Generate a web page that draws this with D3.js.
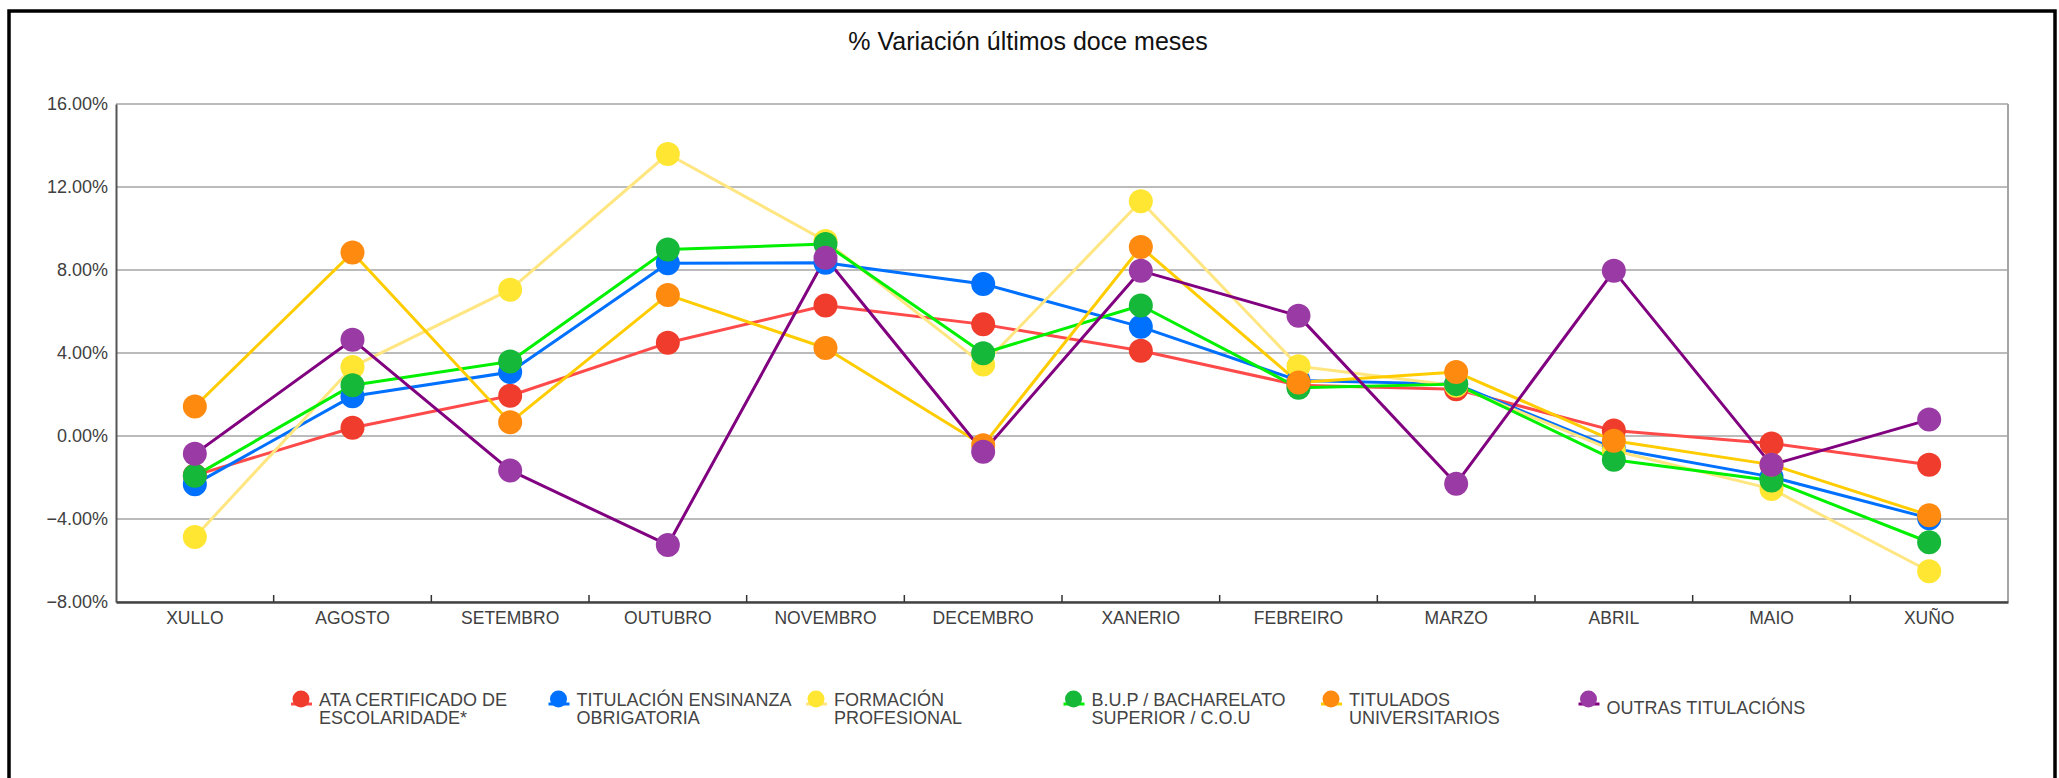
<!DOCTYPE html>
<html>
<head>
<meta charset="utf-8">
<script src="https://cdn.jsdelivr.net/npm/d3@7"></script>
<style>
  body { margin: 0; background: #fff; }
  svg { display: block; font-family: "Liberation Sans", Arial, sans-serif; }
</style>
</head>
<body>
<div id="chart"></div>
<script>
// Chart data
var months = ["XULLO", "AGOSTO", "SETEMBRO", "OUTUBRO", "NOVEMBRO", "DECEMBRO",
              "XANERIO", "FEBREIRO", "MARZO", "ABRIL", "MAIO", "XUÑO"];

var seriesNames = [
    ["ATA CERTIFICADO DE", "ESCOLARIDADE*"],
    ["TITULACIÓN ENSINANZA", "OBRIGATORIA"],
    ["FORMACIÓN", "PROFESIONAL"],
    ["B.U.P / BACHARELATO", "SUPERIOR / C.O.U"],
    ["TITULADOS", "UNIVERSITARIOS"],
    ["OUTRAS TITULACIÓNS"]
];

var ataValues       = [-1.9, 0.40, 1.94, 4.49, 6.29, 5.38, 4.11, 2.45, 2.25, 0.26, -0.36, -1.39];
var obrigValues     = [-2.32, 1.92, 3.08, 8.33, 8.35, 7.33, 5.26, 2.67, 2.50, -0.60, -1.97, -3.96];
var fpValues        = [-4.87, 3.33, 7.05, 13.59, 9.40, 3.44, 11.31, 3.36, 2.42, -0.70, -2.55, -6.52];
var bupValues       = [-1.92, 2.45, 3.59, 8.99, 9.25, 3.99, 6.29, 2.32, 2.50, -1.14, -2.14, -5.12];
var univValues      = [1.42, 8.84, 0.66, 6.80, 4.24, -0.45, 9.11, 2.58, 3.08, -0.23, -1.38, -3.82];
var outrasValues    = [-0.86, 4.64, -1.66, -5.25, 8.59, -0.76, 7.96, 5.79, -2.30, 7.96, -1.39, 0.79];

var yTicks = [-8, -4, 0, 4, 8, 12, 16];

// Styles
var lineColors   = ["#ff4a4a", "#0070ff", "#ffe680", "#00f000", "#ffcc00", "#800080"];
var markerColors = ["#f03c2c", "#0070ff", "#ffe633", "#16b83a", "#ff8a10", "#9a3aa4"];

var allValues = [ataValues, obrigValues, fpValues, bupValues, univValues, outrasValues];

var svgWidth = 2059;
var svgHeight = 778;

var margin = { top: 104, right: 51, bottom: 176, left: 116 };
var width = svgWidth - margin.left - margin.right;
var height = svgHeight - margin.top - margin.bottom;

var svg = d3.select("#chart")
    .append("svg")
        .attr("width", svgWidth)
        .attr("height", svgHeight);

// outer frame
svg.append("path")
    .attr("d", "M9,790 V11 H2055 V790")
    .attr("fill", "none")
    .attr("stroke", "#000")
    .attr("stroke-width", 3.5);

// title
svg.append("text")
    .attr("x", 1028)
    .attr("y", 50)
    .attr("text-anchor", "middle")
    .style("font-size", "25px")
    .style("fill", "#111")
    .text("% Variación últimos doce meses");

var chart = svg.append("g")
    .attr("transform", `translate(${margin.left}, ${margin.top})`);

// scales
var xScale = d3.scaleBand()
    .domain(months)
    .range([0, width]);

var yScale = d3.scaleLinear()
    .domain([-8, 16])
    .range([height, 0]);

// gridlines
chart.append("g")
    .selectAll("line")
    .data(yTicks)
    .enter()
    .append("line")
        .attr("x1", 0)
        .attr("x2", width)
        .attr("y1", d => yScale(d))
        .attr("y2", d => yScale(d))
        .attr("stroke", "#a4a4a4")
        .attr("stroke-width", 1.6);

// right edge of plot
chart.append("line")
    .attr("x1", width).attr("x2", width)
    .attr("y1", 0).attr("y2", height)
    .attr("stroke", "#a4a4a4")
    .attr("stroke-width", 2);

// y axis
var yAxis = chart.append("g")
    .call(d3.axisLeft(yScale)
        .tickValues(yTicks)
        .tickSize(0)
        .tickPadding(8)
        .tickFormat(d => d3.format(".2f")(d) + "%"));
yAxis.select(".domain").attr("stroke", "#555").attr("stroke-width", 2);
yAxis.selectAll("text")
    .style("font-size", "18px")
    .style("fill", "#404040")
    .style("font-family", "Liberation Sans, Arial, sans-serif");

// x axis with ticks between bands, pointing up
var xAxis = chart.append("g")
    .attr("transform", "translate(0," + height + ")")
    .call(d3.axisBottom(xScale).tickSize(0).tickPadding(10));
xAxis.select(".domain").attr("stroke", "#444").attr("stroke-width", 2.5);
xAxis.selectAll("text")
    .style("font-size", "17.5px")
    .style("fill", "#404040")
    .style("font-family", "Liberation Sans, Arial, sans-serif");

chart.append("g")
    .selectAll("line")
    .data(months.slice(1))
    .enter()
    .append("line")
        .attr("x1", d => xScale(d))
        .attr("x2", d => xScale(d))
        .attr("y1", height)
        .attr("y2", height - 7)
        .attr("stroke", "#333")
        .attr("stroke-width", 1.5);

// lines
var line = d3.line()
    .x((d, i) => xScale(months[i]) + xScale.bandwidth() / 2)
    .y(d => yScale(d));

chart.append("g")
    .selectAll("path")
    .data(allValues)
    .enter()
    .append("path")
        .attr("d", d => line(d))
        .attr("fill", "none")
        .attr("stroke", (d, i) => lineColors[i])
        .attr("stroke-width", 3)
        .attr("stroke-linejoin", "round");

// markers
allValues.forEach(function(values, s) {
    chart.append("g")
        .selectAll("circle")
        .data(values)
        .enter()
        .append("circle")
            .attr("cx", (d, i) => xScale(months[i]) + xScale.bandwidth() / 2)
            .attr("cy", d => yScale(d))
            .attr("r", 12)
            .style("fill", markerColors[s]);
});

// legend
var legend = svg.append("g");
seriesNames.forEach(function(name, i) {
    var lx = 301 + i * 257.5;
    var ly = 699;
    var item = legend.append("g");
    item.append("line")
        .attr("x1", lx - 10).attr("x2", lx + 11)
        .attr("y1", ly + 5).attr("y2", ly + 5)
        .attr("stroke", lineColors[i])
        .attr("stroke-width", 3);
    item.append("circle")
        .attr("cx", lx).attr("cy", ly)
        .attr("r", 8.5)
        .style("fill", markerColors[i]);
    var t = item.append("text")
        .attr("x", lx + 18)
        .attr("y", name.length == 1 ? 714 : 706)
        .style("font-size", "18px")
        .style("fill", "#444");
    name.forEach(function(part, j) {
        t.append("tspan")
            .attr("x", lx + 18)
            .attr("dy", j == 0 ? 0 : 17.5)
            .text(part);
    });
});
</script>
</body>
</html>
